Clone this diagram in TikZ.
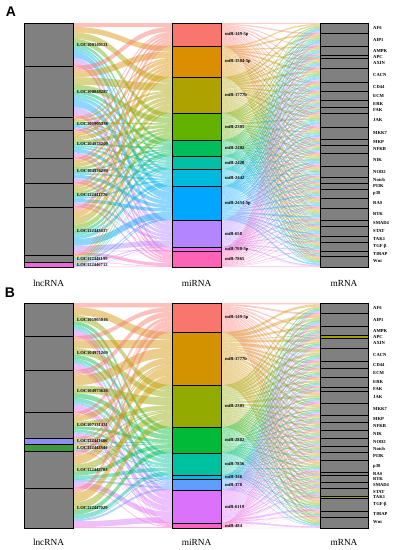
\documentclass[tikz,border=0pt]{standalone}
\usepackage{fontspec}
\setmainfont{Liberation Serif}
\newfontfamily\panelfont{Liberation Sans}
\usepackage{tikz}
\definecolor{colgray}{RGB}{128,128,128}
\definecolor{lncpink}{HTML}{E96AD6}
\definecolor{lncblue}{HTML}{8F8FF2}
\definecolor{lncgreen}{HTML}{3F9A3F}
\definecolor{mrnaolive}{HTML}{A0A000}
% miRNA palettes
\definecolor{cA0}{HTML}{F8766D}\definecolor{cA1}{HTML}{DB8E00}
\definecolor{cA2}{HTML}{AEA200}\definecolor{cA3}{HTML}{64B200}
\definecolor{cA4}{HTML}{00BD5C}\definecolor{cA5}{HTML}{00C1A7}
\definecolor{cA6}{HTML}{00BADE}\definecolor{cA7}{HTML}{00A6FF}
\definecolor{cA8}{HTML}{B385FF}\definecolor{cA9}{HTML}{EF67EB}
\definecolor{cA10}{HTML}{FF63B6}
\definecolor{cB0}{HTML}{F8766D}\definecolor{cB1}{HTML}{D39200}
\definecolor{cB2}{HTML}{93AA00}\definecolor{cB3}{HTML}{00BA38}
\definecolor{cB4}{HTML}{00C19F}\definecolor{cB5}{HTML}{00B9E3}
\definecolor{cB6}{HTML}{619CFF}\definecolor{cB7}{HTML}{DB72FB}
\definecolor{cB8}{HTML}{FF61C3}
% segment bounds (top to bottom)
\def\lncA{{23,66,117,130,158,183,207,255,262,267}}
\def\mirA{{23,46,77,113,140,156,169,186,220,247,251,267}}
\def\mrnaA{{23,33,46,55,58,68,82,91,100,107,113,127,139,145,153,166,177,183,189,198,208,220,226,236,242,251,256,267}}
\def\lncB{{303,336,370,412,438,444,451,488,528}}
\def\mirB{{303,332,385,427,453,475,479,490,523,528}}
\def\mrnaB{{303,313,326,335,338,348,361,368,377,387,391,403,415,422,430,438,446,452,460,472,475,482,488,496,498,511,517,528}}
% #1,#2 bounds, #3,#4 last index, #5,#6 x, #7 palette, #8 index used for colour
\newcommand\ribbonfield[8]{%
  \pgfmathsetmacro\fT{#1[0]}
  \pgfmathsetmacro\fH{#1[#3+1]-\fT}
  \pgfmathsetmacro\fM{(#5+#6)/2}
  \foreach \i in {0,...,#3}{
    \foreach \j in {0,...,#4}{
      \pgfmathsetmacro\fLt{#1[\i]}
      \pgfmathsetmacro\fLh{#1[\i+1]-\fLt}
      \pgfmathsetmacro\fRt{#2[\j]}
      \pgfmathsetmacro\fRh{#2[\j+1]-\fRt}
      \pgfmathsetmacro\fW{\fLh*\fRh/\fH}
      \pgfmathsetmacro\ya{\fLt+\fLh*(\fRt-\fT)/\fH}
      \pgfmathsetmacro\za{\fRt+\fRh*(\fLt-\fT)/\fH}
      \fill[flow, fill=#7#8] (#5,\ya) .. controls (\fM,\ya) and (\fM,\za) .. (#6,\za)
        -- (#6,\za+\fW) .. controls (\fM,\za+\fW) and (\fM,\ya+\fW) .. (#5,\ya+\fW) -- cycle;
    }
  }
}

\begin{document}
\begin{tikzpicture}[x=1pt, y=-1pt,
  flow/.style={fill opacity=0.45},
  seg/.style={fill=colgray, draw=black, line width=0.8pt},
  lbl/.style={font=\fontsize{4.6}{5}\selectfont\bfseries, anchor=west, inner sep=0pt},
  ttl/.style={font=\fontsize{9.3}{10}\selectfont},
  pnl/.style={font=\panelfont\fontsize{14}{14}\selectfont\bfseries}]
  \useasboundingbox[fill=white] (0,0) rectangle (397,550);

  % ribbons
  \ribbonfield{\lncA}{\mirA}{8}{10}{73}{172}{cA}{\j}
  \ribbonfield{\lncB}{\mirB}{7}{8}{73}{172}{cB}{\j}
  \begin{scope}[flow/.style={fill opacity=0.38}]
    \ribbonfield{\mirA}{\mrnaA}{10}{26}{221}{320}{cA}{\i}
    \ribbonfield{\mirB}{\mrnaB}{8}{26}{221}{320}{cB}{\i}
  \end{scope}

  % panel A
  \node[pnl] (pA) at (11,12) {A};
  \foreach \t [count=\n from 0] in {LOC100140121,LOC100048287,LOC101905338,LOC104975209,
      LOC104976293,LOC112441776,LOC112443417,LOC112448199,LOC112446712}{
    \pgfmathsetmacro\ya{\lncA[\n]}\pgfmathsetmacro\yb{\lncA[\n+1]}
    \filldraw[seg] (24,\ya) rectangle (73,\yb);
    \node[lbl] (lncA\n) at (77,{(\ya+\yb)/2}) {\t};
  }
  \filldraw[seg, fill=lncpink] (24,262) rectangle (73,267);
  \foreach \t [count=\n from 0] in {miR-149-5p,miR-1584-5p,miR-1777b,miR-2305,miR-2402,
      miR-2420,miR-2442,miR-2454-5p,miR-658,miR-760-5p,miR-7865}{
    \pgfmathsetmacro\ya{\mirA[\n]}\pgfmathsetmacro\yb{\mirA[\n+1]}
    \filldraw[seg, fill=cA\n] (172,\ya) rectangle (221,\yb);
    \node[lbl] (mirA\n) at (225,{(\ya+\yb)/2}) {\t};
  }
  \foreach \t [count=\n from 0] in {AF6,AIP1,AMPK,APC,AXIN,CACN,CD44,ECM,ERK,FAK,JAK,MKK7,
      MKP,NFKB,NIK,NOD2,Notch,PI3K,p38,RAS,RTK,SMAD4,STAT,TAK1,TGF-β,TIRAP,Wnt}{
    \pgfmathsetmacro\ya{\mrnaA[\n]}\pgfmathsetmacro\yb{\mrnaA[\n+1]}
    \filldraw[seg] (320,\ya) rectangle (368,\yb);
    \node[lbl] (mrnaA\n) at (373,{(\ya+\yb)/2}) {\t};
  }
  \node[ttl] (tlncA) at (48.5,283) {lncRNA};
  \node[ttl] (tmirA) at (196.5,283) {miRNA};
  \node[ttl] (tmrnaA) at (344,283) {mRNA};

  % panel B
  \node[pnl] (pB) at (10,293) {B};
  \foreach \t [count=\n from 0] in {LOC101905046,LOC104971269,LOC104973626,LOC107131431,
      LOC112441606,LOC112442544,LOC112442783,LOC112447029}{
    \pgfmathsetmacro\ya{\lncB[\n]}\pgfmathsetmacro\yb{\lncB[\n+1]}
    \filldraw[seg] (24,\ya) rectangle (73,\yb);
    \node[lbl] (lncB\n) at (77,{(\ya+\yb)/2}) {\t};
  }
  \filldraw[seg, fill=lncblue] (24,438) rectangle (73,444);
  \filldraw[seg, fill=lncgreen] (24,444) rectangle (73,451);
  \foreach \t [count=\n from 0] in {miR-149-5p,miR-1777b,miR-2305,miR-2882,miR-7856,
      miR-346,miR-378,miR-6119,miR-484}{
    \pgfmathsetmacro\ya{\mirB[\n]}\pgfmathsetmacro\yb{\mirB[\n+1]}
    \filldraw[seg, fill=cB\n] (172,\ya) rectangle (221,\yb);
    \node[lbl] (mirB\n) at (225,{(\ya+\yb)/2}) {\t};
  }
  \foreach \t [count=\n from 0] in {AF6,AIP1,AMPK,APC,AXIN,CACN,CD44,ECM,ERK,FAK,JAK,MKK7,
      MKP,NFKB,NIK,NOD2,Notch,PI3K,p38,RAS,RTK,SMAD4,STAT,TAK1,TGF-β,TIRAP,Wnt}{
    \pgfmathsetmacro\ya{\mrnaB[\n]}\pgfmathsetmacro\yb{\mrnaB[\n+1]}
    \filldraw[seg] (320,\ya) rectangle (368,\yb);
    \node[lbl] (mrnaB\n) at (373,{(\ya+\yb)/2}) {\t};
  }
  \filldraw[seg, fill=mrnaolive] (320,335) rectangle (368,338);
  \filldraw[seg, fill=mrnaolive] (320,496) rectangle (368,498);
  \node[ttl] (tlncB) at (48.5,542) {lncRNA};
  \node[ttl] (tmirB) at (196.5,542) {miRNA};
  \node[ttl] (tmrnaB) at (344,542) {mRNA};
\end{tikzpicture}
\end{document}
